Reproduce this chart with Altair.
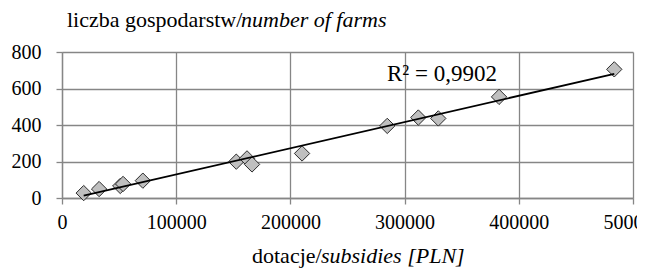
import altair as alt
import pandas as pd

# data
subsidies = [19000, 32500, 51000, 53500, 70800, 152600, 162000, 166400,
             210200, 284800, 312000, 329500, 382700, 483600]
farms = [27, 49, 66, 77, 95, 199, 217, 184, 244, 395, 441, 436, 554, 705]

x_ticks = [0, 100000, 200000, 300000, 400000, 500000]
y_ticks = [0, 200, 400, 600, 800]

y_title_pl = ["liczba gospodarstw/"]
y_title_en = ["number of farms"]
x_title_pl = ["dotacje/"]
x_title_en = ["subsidies [PLN]"]
r2_label = ["R² = 0,9902"]

FONT = "Liberation Serif"
GRID = "#868686"

df = pd.DataFrame({"x": subsidies, "y": farms})

axis_common = dict(format="d", title=None, labelFlush=False,
                   labelOverlap=False, labelFont=FONT, labelFontSize=20,
                   labelColor="black", grid=True, gridColor=GRID,
                   gridWidth=1.3, gridOpacity=1, domainColor=GRID,
                   domainWidth=1.3, tickColor=GRID, tickWidth=1.3,
                   tickSize=6, tickCount=20)

xscale = alt.Scale(domain=[0, 500000], nice=False, zero=True)
yscale = alt.Scale(domain=[0, 800], nice=False, zero=True)

xenc = alt.X("x:Q", scale=xscale,
             axis=alt.Axis(values=x_ticks, labelPadding=8, **axis_common))
yenc = alt.Y("y:Q", scale=yscale,
             axis=alt.Axis(values=y_ticks, labelPadding=15, **axis_common))

points = alt.Chart(df).mark_point(
    shape="diamond", filled=True, size=235, fill="#BFBFBF",
    stroke="#2b2b2b", strokeWidth=1, opacity=1
).encode(x=xenc, y=yenc)

trend = alt.Chart(df).transform_regression("x", "y").mark_line(
    color="black", strokeWidth=1.8
).encode(x=xenc, y=yenc)

def label(txt, x, y, italic=False, size=22):
    kw = dict(align="left", baseline="alphabetic", font=FONT, fontSize=size,
              color="black")
    if italic:
        kw["fontStyle"] = "italic"
    return alt.Chart(pd.DataFrame({"t": txt})).mark_text(**kw).encode(
        x=alt.value(x), y=alt.value(y), text="t:N")

r2 = label(r2_label, 325, 29, size=23)
t1 = label(y_title_pl, 5, -25)
t2 = label(y_title_en, 179, -25, italic=True)
t3 = label(x_title_pl, 190, 211)
t4 = label(x_title_en, 259, 211, italic=True)

chart = alt.layer(points, trend, r2, t1, t2, t3, t4).properties(
    width=571, height=146,
    autosize=alt.AutoSizeParams(type="none"),
    padding={"left": 54, "top": 44, "right": 4, "bottom": 71},
).configure(font=FONT).configure_view(stroke=None)

chart.save("out.html", embed_options={"renderer": "svg", "actions": False})
